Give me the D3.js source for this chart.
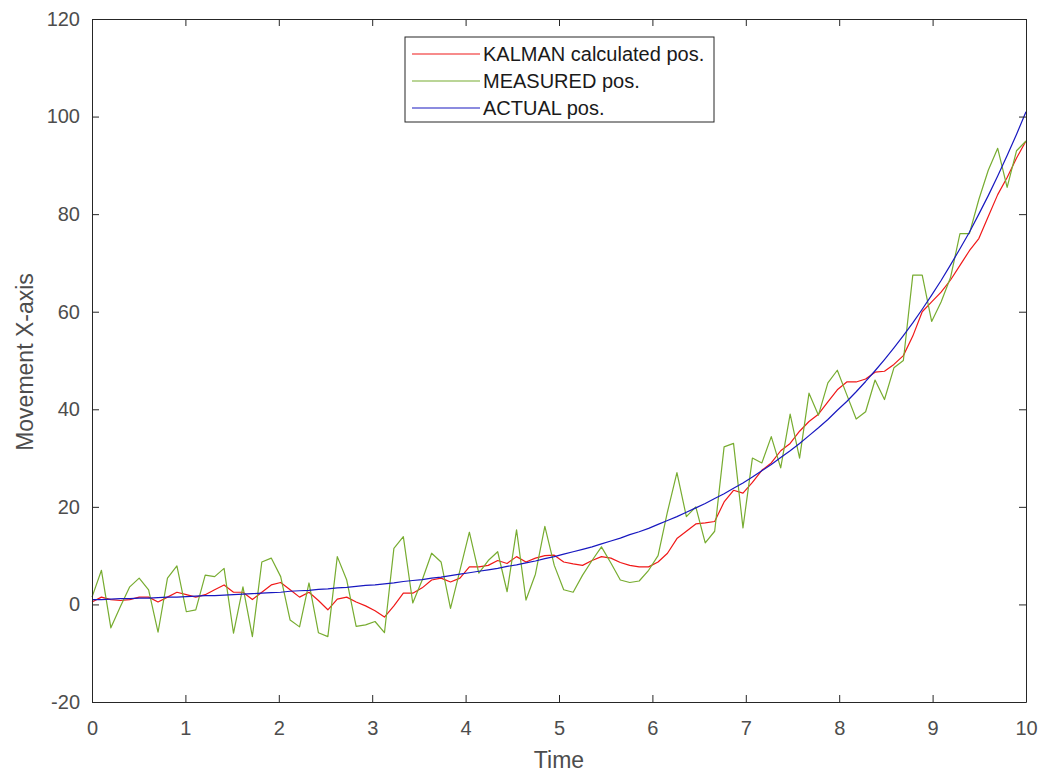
<!DOCTYPE html>
<html>
<head>
<meta charset="utf-8">
<script src="https://cdn.jsdelivr.net/npm/d3@7"></script>
<style>
  body { margin: 0; background: #fff; }
  svg { display: block; font-family: "Liberation Sans", Arial, sans-serif; }
</style>
</head>
<body>
<div id="chart"></div>
<script>
const width = 1041;
const height = 774;

// 100 samples between 0 and 10 (linspace)
const nSamples = 100;
const tStart = 0, tEnd = 10;

const measured = [
  1.5, 7, -4.8, -0.5, 3.6, 5.4, 3, -5.7, 5.4, 7.9,
  -1.5, -1.1, 6, 5.7, 7.4, -5.9, 3.6, -6.6, 8.7, 9.5,
  5.7, -3.2, -4.6, 4.4, -5.8, -6.6, 9.8, 5, -4.5, -4.2,
  -3.5, -5.8, 11.5, 13.9, 0.3, 5, 10.5, 8.7, -0.8, 7,
  14.8, 6.4, 9, 10.8, 2.6, 15.3, 0.9, 6.2, 16, 8,
  3, 2.5, 6, 9, 11.8, 8.5, 5, 4.5, 4.8, 7,
  10, 19, 27, 18, 20, 12.6, 15, 32.3, 33, 15.7,
  30, 29, 34.4, 28, 39, 30, 43.3, 38.8, 45.4, 48,
  43, 38, 39.5, 46, 42, 48.5, 50, 67.5, 67.5, 58,
  62, 67, 76, 76, 83, 89, 93.5, 85.5, 93, 95
];

const kalman = [
  0.5, 1.5, 1, 0.8, 1, 1.5, 1.5, 0.5, 1.5, 2.5,
  2, 1.5, 2, 3, 4, 2.5, 2.5, 1, 2.5, 4,
  4.5, 3, 1.5, 2.5, 0.8, -1.1, 1.1, 1.5, 0.5, -0.3,
  -1.3, -2.6, -0.3, 2.3, 2.3, 3.4, 5, 5.4, 4.6, 5.4,
  7.7, 7.7, 8, 9, 8.4, 9.8, 8.7, 9.5, 10, 10.1,
  8.7, 8.3, 8, 9, 9.8, 9.5, 8.6, 8, 7.7, 7.7,
  8.7, 10.5, 13.5, 15, 16.5, 16.7, 17, 21, 23.4, 22.8,
  25, 27.5, 29, 31.5, 33, 35.5, 37.5, 39, 41.5, 44,
  45.6, 45.6, 46.2, 47.6, 47.8, 49.2, 51, 55, 60, 62,
  64, 66.5, 69.5, 72.5, 75, 79.5, 84, 87.5, 91.5, 95
];

const actual = [
  1.0, 1.0, 1.1, 1.2, 1.2, 1.3, 1.3, 1.4, 1.5, 1.5,
  1.6, 1.7, 1.8, 1.8, 1.9, 2.0, 2.1, 2.2, 2.3, 2.4,
  2.5, 2.7, 2.8, 2.9, 3.1, 3.2, 3.4, 3.5, 3.7, 3.9,
  4.0, 4.2, 4.4, 4.7, 4.9, 5.1, 5.4, 5.6, 5.9, 6.2,
  6.5, 6.8, 7.1, 7.4, 7.8, 8.1, 8.5, 8.9, 9.4, 9.8,
  10.3, 10.8, 11.3, 11.8, 12.4, 13.0, 13.6, 14.3, 14.9, 15.6,
  16.4, 17.2, 18.0, 18.9, 19.8, 20.7, 21.7, 22.7, 23.8, 24.9,
  26.1, 27.4, 28.7, 30.1, 31.5, 33.0, 34.6, 36.2, 37.9, 39.8,
  41.6, 43.6, 45.7, 47.9, 50.2, 52.6, 55.1, 57.7, 60.5, 63.4,
  66.4, 69.6, 72.9, 76.3, 80.0, 83.8, 87.8, 92.0, 96.4, 101.0
];

const xTicks = [0, 1, 2, 3, 4, 5, 6, 7, 8, 9, 10];
const yTicks = [-20, 0, 20, 40, 60, 80, 100, 120];

const seriesNames = ["KALMAN calculated pos.", "MEASURED pos.", "ACTUAL pos."];
const seriesColors = ["#f01818", "#77ac30", "#1818c0"];

const times = d3.range(nSamples).map(i => tStart + i * (tEnd - tStart) / (nSamples - 1));

const margin = { left: 92, right: 15, top: 19, bottom: 72 };
const plotW = width - margin.left - margin.right;
const plotH = height - margin.top - margin.bottom;

const svg = d3.select("#chart")
  .append("svg")
  .attr("width", width)
  .attr("height", height);

const x = d3.scaleLinear().domain([0, 10]).range([margin.left, margin.left + plotW]);
const y = d3.scaleLinear().domain([-20, 120]).range([margin.top + plotH, margin.top]);

const axisColor = "#262626";
const tickLen = 7;
// plain hyphen for negatives, like the original
const fmt = d => String(d);

// data lines (drawn under the axes box)
const line = d3.line()
  .x((d, i) => x(times[i]))
  .y(d => y(d));

const plot = svg.append("g");
[kalman, measured, actual].forEach((arr, k) => {
  plot.append("path")
    .datum(arr)
    .attr("d", line)
    .attr("fill", "none")
    .attr("stroke", seriesColors[k])
    .attr("stroke-width", 1.2)
    .attr("stroke-linejoin", "round");
});

// axes
const axisBottom = svg.append("g")
  .attr("transform", `translate(0,${y(-20)})`)
  .call(d3.axisBottom(x).tickValues(xTicks).tickFormat(fmt).tickSizeInner(-tickLen).tickSizeOuter(0).tickPadding(19));
const axisLeft = svg.append("g")
  .attr("transform", `translate(${x(0)},0)`)
  .call(d3.axisLeft(y).tickValues(yTicks).tickFormat(fmt).tickSizeInner(-tickLen).tickSizeOuter(0).tickPadding(12));
const axisTop = svg.append("g")
  .attr("transform", `translate(0,${y(120)})`)
  .call(d3.axisTop(x).tickValues(xTicks).tickSizeInner(-tickLen).tickSizeOuter(0).tickFormat(""));
const axisRight = svg.append("g")
  .attr("transform", `translate(${x(10)},0)`)
  .call(d3.axisRight(y).tickValues(yTicks).tickSizeInner(-tickLen).tickSizeOuter(0).tickFormat(""));

[axisBottom, axisLeft, axisTop, axisRight].forEach(g => {
  g.selectAll("path, line").attr("stroke", axisColor).attr("stroke-width", 1);
  g.selectAll("text")
    .attr("fill", "#4d4d4d")
    .style("font-size", "20px")
    .style("font-family", "'Liberation Sans', Arial, sans-serif");
});

// axis labels
svg.append("text")
  .attr("x", x(5))
  .attr("y", 768)
  .attr("text-anchor", "middle")
  .attr("fill", "#4d4d4d")
  .style("font-size", "23px")
  .text("Time");

svg.append("text")
  .attr("transform", `translate(33,362) rotate(-90)`)
  .attr("text-anchor", "middle")
  .attr("fill", "#4d4d4d")
  .style("font-size", "23px")
  .text("Movement X-axis");

// legend
const legend = svg.append("g").attr("transform", "translate(405,37)");
legend.append("rect")
  .attr("width", 309)
  .attr("height", 85)
  .attr("fill", "#fff")
  .attr("stroke", axisColor)
  .attr("stroke-width", 1);

seriesNames.forEach((name, i) => {
  const row = legend.append("g").attr("transform", `translate(0,${17 + i * 27})`);
  row.append("line")
    .attr("x1", 7).attr("x2", 75)
    .attr("stroke", seriesColors[i])
    .attr("stroke-width", 1.2);
  row.append("text")
    .attr("x", 78)
    .attr("dy", "0.35em")
    .attr("fill", "#1a1a1a")
    .style("font-size", "20px")
    .text(name);
});
</script>
</body>
</html>
